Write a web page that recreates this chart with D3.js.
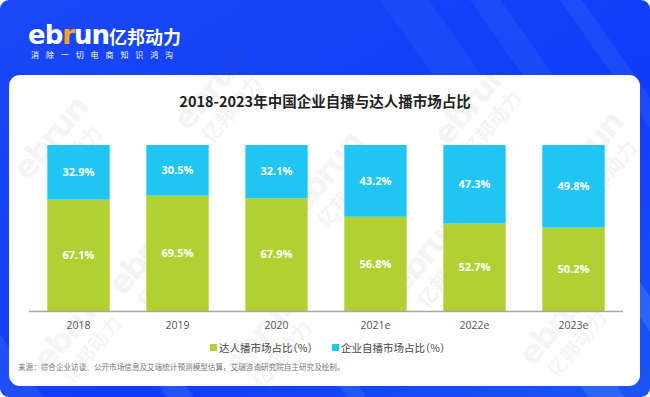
<!DOCTYPE html>
<html>
<head>
<meta charset="utf-8">
<script src="https://cdn.jsdelivr.net/npm/d3@7"></script>
<style>
  html, body { margin: 0; padding: 0; background: #fff; }
  svg { display: block; }
  .legend text { font-feature-settings: "halt" 1; }
</style>
</head>
<body>
<svg width="650" height="397"></svg>
<script>
// 数据
var years = ["2018", "2019", "2020", "2021e", "2022e", "2023e"];
var talentShare = [67.1, 69.5, 67.9, 56.8, 52.7, 50.2];   // 达人播
var brandShare = [32.9, 30.5, 32.1, 43.2, 47.3, 49.8];    // 企业自播
var seriesNames = ["达人播市场占比（%）", "企业自播市场占比（%）"];
var colors = ["#b1d133", "#20c5f1"];

var W = 650, H = 397;
var cjk = "'Noto Sans CJK SC', 'Noto Sans', sans-serif";

var svg = d3.select("svg");
var defs = svg.append("defs");

// 背景渐变
var bg = defs.append("linearGradient").attr("id", "bg")
    .attr("x1", 0).attr("y1", 0).attr("x2", 1).attr("y2", 1);
bg.append("stop").attr("offset", "0%").attr("stop-color", "#1a48f6");
bg.append("stop").attr("offset", "60%").attr("stop-color", "#0f3cf8");
bg.append("stop").attr("offset", "100%").attr("stop-color", "#1b56f3");

defs.append("clipPath").attr("id", "outer")
  .append("rect").attr("width", W).attr("height", H).attr("rx", 9);

var frame = svg.append("g").attr("clip-path", "url(#outer)");
frame.append("rect").attr("width", W).attr("height", H).attr("fill", "url(#bg)");

// 斜向光带
var streaks = [[380, 0, 40, 0.08], [470, 0, 25, 0.1], [560, 0, 18, 0.12], [-40, 330, 30, 0.15],
               [120, 330, 22, 0.18], [300, 330, 16, 0.15], [520, 300, 30, 0.2], [600, 260, 20, 0.22]];
frame.selectAll("rect.streak")
    .data(streaks)
    .enter().append("rect")
    .attr("class", "streak")
    .attr("x", function(d) { return d[0]; })
    .attr("y", function(d) { return d[1]; })
    .attr("width", function(d) { return d[2]; })
    .attr("height", 260)
    .attr("fill", "#6fb8ff")
    .attr("opacity", function(d) { return d[3]; })
    .attr("transform", function(d) { return "rotate(-35," + d[0] + "," + d[1] + ")"; });

// 白色卡片
frame.append("rect")
    .attr("x", 9).attr("y", 75)
    .attr("width", 631).attr("height", 311)
    .attr("rx", 11)
    .attr("fill", "#fff");

// 水印（先画，压在图表下面）
var marks = [[55, 150], [215, 100], [330, 185], [475, 115], [590, 165],
             [150, 265], [430, 265], [265, 345], [75, 340], [560, 335]];
var wm = svg.append("g").attr("clip-path", "url(#outer)")
    .selectAll("g")
    .data(marks)
    .enter().append("g")
    .attr("transform", function(d) { return "translate(" + d[0] + "," + d[1] + ") rotate(-50)"; })
    .attr("opacity", 0.06)
    .attr("fill", "#555");
wm.append("text")
    .attr("x", -42).attr("y", 0)
    .attr("font-family", "'DejaVu Sans', sans-serif")
    .attr("font-weight", "bold")
    .attr("font-size", 32)
    .attr("letter-spacing", -2)
    .text("ebrun");
wm.append("text")
    .attr("x", -36).attr("y", 26)
    .attr("font-family", cjk)
    .attr("font-weight", "bold")
    .attr("font-size", 20)
    .text("亿邦动力");

// logo
var logo = svg.append("g");
logo.append("text")
    .attr("x", 28).attr("y", 44)
    .attr("font-family", "'DejaVu Sans', Arial, sans-serif")
    .attr("font-weight", "bold")
    .attr("font-size", 26)
    .attr("letter-spacing", -1)
    .attr("fill", "#fff")
    .html('eb<tspan fill="#f7a21b">r</tspan>un');
logo.append("text")
    .attr("x", 109).attr("y", 44)
    .attr("font-family", cjk)
    .attr("font-weight", "bold")
    .attr("font-size", 18)
    .attr("fill", "#fff")
    .text("亿邦动力");
logo.append("text")
    .attr("x", 31).attr("y", 58)
    .attr("font-family", cjk)
    .attr("font-size", 8)
    .attr("letter-spacing", 6.9)
    .attr("fill", "#fff")
    .text("消除一切电商知识鸿沟");

// 标题
svg.append("text")
    .attr("x", 325).attr("y", 107)
    .attr("text-anchor", "middle")
    .attr("font-family", cjk)
    .attr("font-weight", "bold")
    .attr("font-size", 14.5)
    .attr("fill", "#222")
    .text("2018-2023年中国企业自播与达人播市场占比");

// 比例尺
var x = d3.scaleBand()
    .domain(years)
    .range([29, 623])
    .paddingInner(0.37)
    .paddingOuter(0.185);

var y = d3.scaleLinear()
    .domain([0, 100])
    .range([311, 145]);

var rows = years.map(function(yr, i) {
  return { year: yr, talent: talentShare[i], brand: brandShare[i] };
});
var stack = d3.stack().keys(["talent", "brand"])(rows);

var chart = svg.append("g");

var layers = chart.selectAll("g.layer")
    .data(stack)
    .enter().append("g")
    .attr("class", "layer")
    .attr("fill", function(d, i) { return colors[i]; });

layers.selectAll("rect")
    .data(function(d) { return d; })
    .enter().append("rect")
    .attr("x", function(d) { return x(d.data.year); })
    .attr("y", function(d) { return y(d[1]); })
    .attr("width", x.bandwidth())
    .attr("height", function(d) { return y(d[0]) - y(d[1]); });

// 数值标签
layers.selectAll("text")
    .data(function(d) { return d.map(function(p) { return { p: p, key: d.key }; }); })
    .enter().append("text")
    .attr("x", function(d) { return x(d.p.data.year) + x.bandwidth() / 2; })
    .attr("y", function(d) { return y((d.p[0] + d.p[1]) / 2); })
    .attr("dy", "0.35em")
    .attr("text-anchor", "middle")
    .attr("font-family", "'Open Sans', 'Noto Sans', sans-serif")
    .attr("font-weight", "bold")
    .attr("font-size", 11)
    .attr("fill", "#fff")
    .text(function(d) { return d.p.data[d.key].toFixed(1) + "%"; });

// x 轴
var xAxis = chart.append("g")
    .attr("transform", "translate(0,311)")
    .call(d3.axisBottom(x).tickSize(0).tickPadding(11));
xAxis.select(".domain").attr("stroke", "#a6a6a6").attr("stroke-width", 1.3)
    .attr("d", "M29,0.5H623");
xAxis.selectAll("text")
    .attr("font-family", "'Open Sans', 'Noto Sans', sans-serif")
    .attr("font-size", 10.5)
    .attr("fill", "#555");

// 图例
var legendX = [210, 332];
var legend = svg.append("g").attr("class", "legend").selectAll("g")
    .data(seriesNames)
    .enter().append("g")
    .attr("transform", function(d, i) { return "translate(" + legendX[i] + ",348)"; });
legend.append("rect")
    .attr("x", 0).attr("y", -4)
    .attr("width", 7).attr("height", 7)
    .attr("fill", function(d, i) { return colors[i]; });
legend.append("text")
    .attr("x", 9).attr("y", 0)
    .attr("dy", "0.35em")
    .attr("font-family", cjk)
    .attr("font-size", 10.5)
    .attr("fill", "#444")
    .text(function(d) { return d; });

// 来源
svg.append("text")
    .attr("x", 18).attr("y", 370)
    .attr("font-family", cjk)
    .attr("font-size", 7.6)
    .attr("fill", "#777")
    .text("来源：综合企业访谈、公开市场信息及艾瑞统计预测模型估算，艾瑞咨询研究院自主研究及绘制。");
</script>
</body>
</html>
